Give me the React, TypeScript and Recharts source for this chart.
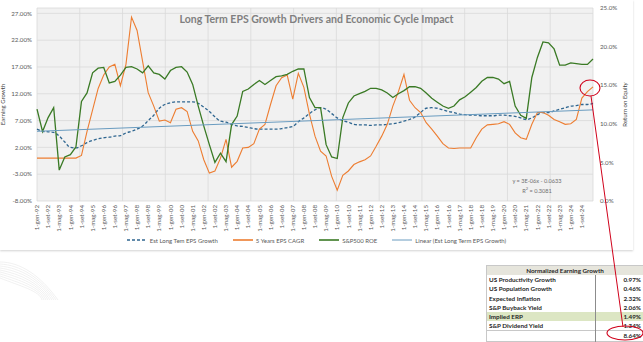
import React from 'react';
import { ComposedChart, Line, XAxis, YAxis, CartesianGrid, Legend } from 'recharts';

const FONT = 'Lato, "Open Sans", sans-serif';
const TEXT_GRAY = '#595959';

// sampled every 4 months starting 1-gen-92 (index 0)
const estGrowth = [
  5.4, 5.0, 4.9, 4.8, 4.1, 3.0, 2.0, 1.9, 2.3, 2.9,
  3.3, 3.6, 3.8, 3.9, 4.1, 4.2, 4.7, 5.0, 5.4, 6.0,
  7.0, 8.0, 9.3, 10.0, 10.3, 10.5, 10.5, 10.5, 10.5, 10.2,
  9.5, 8.7, 7.7, 6.9, 6.7, 6.3, 6.0, 5.9, 5.7, 5.5,
  5.4, 5.4, 5.4, 5.4, 5.5, 5.7, 5.9, 6.8, 7.5, 8.3,
  9.0, 9.4, 9.1, 8.3, 7.5, 7.0, 6.7, 6.3, 6.2, 6.2,
  6.1, 6.2, 6.2, 6.3, 6.4, 6.6, 6.9, 7.2, 7.7, 8.5,
  9.3, 9.4, 9.3, 9.0, 8.7, 8.5, 8.2, 8.1, 8.0, 8.0,
  7.9, 7.9, 7.9, 8.0, 8.0, 7.9, 7.8, 7.5, 7.2, 7.5,
  8.1, 8.5, 8.5, 8.8, 9.1, 9.4, 9.7, 9.8, 10.0, 10.0,
  10.2,
];

const epsCagr = [
  0.0, 0.0, 0.0, 0.0, 0.0, 0.0, 0.0, 0.0, 0.5, 5.0,
  9.0, 13.0, 15.5, 17.0, 17.5, 13.5, 17.5, 26.3, 23.8, 18.0,
  12.2, 9.7, 6.9, 7.1, 6.6, 9.1, 9.4, 8.7, 5.0, 3.2,
  -0.3, -2.8, -2.4, 0.0, 3.5, -1.7, -0.6, 1.9, 2.0, 2.7,
  5.4, 6.3, 10.0, 13.5, 15.0, 15.5, 11.0, 15.8, 13.2, 8.2,
  4.1, 1.3, 0.4, -3.4, -6.0, -3.2, -2.4, -1.2, -0.7, -0.3,
  0.4, 2.2, 4.1, 6.3, 9.7, 12.4, 15.6, 10.8, 9.4, 8.5,
  6.6, 5.4, 4.1, 2.7, 1.9, 1.8, 1.9, 1.9, 1.9, 3.8,
  5.4, 6.2, 6.3, 6.4, 6.8, 6.3, 4.7, 3.8, 3.5, 6.3,
  8.5, 8.5, 8.0, 7.2, 6.8, 6.3, 6.4, 7.2, 11.2, 12.4,
  13.3,
];

const spRoe = [
  11.9, 9.0, 10.8, 12.1, 4.0, 5.7, 6.0, 7.0, 12.9, 14.0,
  16.6, 17.2, 17.3, 15.3, 15.5, 16.3, 17.3, 17.4, 17.1, 16.6,
  17.5, 16.6, 16.4, 15.8, 16.9, 17.3, 17.4, 16.7, 15.1, 12.3,
  9.7, 7.3, 5.0, 6.2, 5.1, 9.9, 11.0, 14.2, 14.5, 15.1,
  15.6, 15.1, 15.6, 16.1, 16.2, 16.4, 16.8, 17.1, 17.1, 13.4,
  12.1, 12.1, 7.3, 5.7, 5.5, 10.8, 12.7, 13.6, 13.9, 14.2,
  14.6, 14.6, 14.4, 14.0, 13.4, 13.9, 14.3, 14.8, 14.8, 14.6,
  14.0, 13.3, 12.8, 12.3, 12.0, 12.3, 13.1, 13.5, 14.1, 14.7,
  15.5, 16.0, 16.0, 15.8, 15.2, 15.5, 12.3, 11.1, 10.7, 16.0,
  18.6, 20.6, 20.5, 19.7, 17.6, 17.6, 17.9, 17.8, 17.7, 17.7,
  18.4,
];

// linear trendline of Est Long Term EPS Growth: first and last value
const trendStart = 5.0;
const trendEnd = 9.0;

const tickLabels = [
  '1-gen-92', '1-set-92', '1-mag-93', '1-gen-94', '1-set-94', '1-mag-95', '1-gen-96', '1-set-96',
  '1-mag-97', '1-gen-98', '1-set-98', '1-mag-99', '1-gen-00', '1-set-00', '1-mag-01', '1-gen-02',
  '1-set-02', '1-mag-03', '1-gen-04', '1-set-04', '1-mag-05', '1-gen-06', '1-set-06', '1-mag-07',
  '1-gen-08', '1-set-08', '1-mag-09', '1-gen-10', '1-set-10', '1-mag-11', '1-gen-12', '1-set-12',
  '1-mag-13', '1-gen-14', '1-set-14', '1-mag-15', '1-gen-16', '1-set-16', '1-mag-17', '1-gen-18',
  '1-set-18', '1-mag-19', '1-gen-20', '1-set-20', '1-mag-21', '1-gen-22', '1-set-22', '1-mag-23',
  '1-gen-24', '1-set-24',
];
const tickMonths = tickLabels.map((_, i) => i * 8);

const leftTicks = [-8, -3, 2, 7, 12, 17, 22, 27];
const rightTicks = [0, 5, 10, 15, 20, 25];

const tableLabels = [
  'US Productivity Growth',
  'US Population Growth',
  'Expected Inflation',
  'S&P Buyback Yield',
  'Implied ERP',
  'S&P Dividend Yield',
];
const tableValues = [0.97, 0.46, 2.32, 2.06, 1.49, 1.34];
const tableTotal = 8.64;

const lastIdx = estGrowth.length - 1;
const data = estGrowth.map((v, i) => ({
  m: i * 4,
  est: v,
  cagr: epsCagr[i],
  roe: spRoe[i],
  trend: i === 0 ? trendStart : i === lastIdx ? trendEnd : null,
}));

const COLORS = {
  est: '#2f6690',
  cagr: '#ed7d31',
  roe: '#3a7a25',
  trend: '#6a9cc0',
};

const legendOrder = ['est', 'cagr', 'roe', 'trend'];
const legendStyle: Record<string, { dash?: string; w: number }> = {
  est: { dash: '3 2', w: 1.4 },
  cagr: { w: 1.6 },
  roe: { w: 1.6 },
  trend: { w: 1 },
};

const DateTick = ({ x, y, payload }: any) => {
  const idx = tickMonths.indexOf(payload.value);
  return (
    <text
      x={x}
      y={y}
      dy="0.35em"
      transform={`rotate(-90 ${x} ${y})`}
      textAnchor="end"
      fontSize={6.2}
      fontFamily={FONT}
      fill={TEXT_GRAY}
    >
      {idx >= 0 ? tickLabels[idx] : ''}
    </text>
  );
};

const LegendContent = ({ payload }: any) => {
  const items = [...(payload || [])].sort(
    (a: any, b: any) => legendOrder.indexOf(a.dataKey) - legendOrder.indexOf(b.dataKey)
  );
  return (
    <div
      style={{
        display: 'flex',
        justifyContent: 'center',
        alignItems: 'center',
        height: 16,
        fontFamily: FONT,
        fontSize: 6,
        color: TEXT_GRAY,
      }}
    >
      {items.map((p: any) => {
        const st = legendStyle[p.dataKey] || { w: 1 };
        return (
          <span key={p.dataKey} style={{ display: 'flex', alignItems: 'center', margin: '0 7.5px' }}>
            <svg width={20} height={4}>
              <line x1={0} y1={2} x2={20} y2={2} stroke={p.color} strokeWidth={st.w} strokeDasharray={st.dash} />
            </svg>
            <span style={{ marginLeft: 3, whiteSpace: 'nowrap' }}>{p.value}</span>
          </span>
        );
      })}
    </div>
  );
};

const gridColumns = ({ offset }: any) => {
  const cols: number[] = [];
  for (let i = 0; i <= 13; i++) cols.push(offset.left + (i * offset.width) / 13);
  return cols;
};

const cellBase: React.CSSProperties = {
  height: 9.2,
  padding: '0 2px',
  lineHeight: '9.2px',
  whiteSpace: 'nowrap',
};

export default function App() {
  return (
    <div
      style={{
        position: 'absolute',
        left: 0,
        top: 0,
        width: 643,
        height: 342,
        overflow: 'hidden',
        background: '#fff',
        fontFamily: FONT,
      }}
    >
      {/* chart card */}
      <div
        style={{
          position: 'absolute',
          left: 0,
          top: 0,
          width: 633,
          height: 250,
          background: '#fff',
          boxShadow: '0 1px 2px rgba(0,0,0,0.18)',
        }}
      >
        <ComposedChart width={633} height={250} data={data} margin={{ top: 8, right: 0, left: 0, bottom: 2 }}>
          <CartesianGrid
            yAxisId="left"
            stroke="#d9d9d9"
            strokeWidth={0.8}
            fill="#f1f1f1"
            verticalCoordinatesGenerator={gridColumns}
          />
          <XAxis
            dataKey="m"
            type="number"
            domain={[0, 400]}
            ticks={tickMonths}
            interval={0}
            tick={<DateTick />}
            tickLine={false}
            axisLine={false}
            tickSize={0}
            tickMargin={4}
            height={31}
          />
          <YAxis
            yAxisId="left"
            domain={[-8, 28]}
            ticks={leftTicks}
            tickFormatter={(v: number) => `${v.toFixed(2)}%`}
            tick={{ fontSize: 6.2, fill: TEXT_GRAY, fontFamily: FONT }}
            tickLine={false}
            axisLine={false}
            tickSize={0}
            tickMargin={5}
            width={37}
            label={{
              value: 'Earning Growth',
              angle: -90,
              position: 'insideLeft',
              offset: 3,
              style: { textAnchor: 'middle', fontSize: 6, fill: '#404040', fontFamily: FONT },
            }}
          />
          <YAxis
            yAxisId="right"
            orientation="right"
            domain={[0, 25]}
            ticks={rightTicks}
            tickFormatter={(v: number) => `${v.toFixed(1)}%`}
            tick={{ fontSize: 6.2, fill: TEXT_GRAY, fontFamily: FONT }}
            tickLine={false}
            axisLine={false}
            tickSize={0}
            tickMargin={7}
            width={40}
            label={{
              value: 'Return on Equity',
              angle: -90,
              position: 'insideRight',
              offset: 8,
              style: { textAnchor: 'middle', fontSize: 6, fill: '#404040', fontFamily: FONT },
            }}
          />
          <Legend verticalAlign="bottom" content={<LegendContent />} />
          <Line
            yAxisId="left"
            dataKey="est"
            name="Est Long Tem EPS Growth"
            type="monotone"
            stroke={COLORS.est}
            strokeWidth={1.3}
            strokeDasharray="3 2"
            dot={false}
            isAnimationActive={false}
          />
          <Line
            yAxisId="left"
            dataKey="cagr"
            name="5 Years EPS CAGR"
            type="linear"
            stroke={COLORS.cagr}
            strokeWidth={1.1}
            dot={false}
            isAnimationActive={false}
          />
          <Line
            yAxisId="right"
            dataKey="roe"
            name="S&P500 ROE"
            type="linear"
            stroke={COLORS.roe}
            strokeWidth={1.3}
            dot={false}
            isAnimationActive={false}
          />
          <Line
            yAxisId="left"
            dataKey="trend"
            name="Linear (Est Long Term EPS Growth)"
            type="linear"
            stroke={COLORS.trend}
            strokeWidth={1}
            dot={false}
            connectNulls
            isAnimationActive={false}
          />
        </ComposedChart>

        <div
          style={{
            position: 'absolute',
            left: 0,
            top: 13,
            width: 633,
            textAlign: 'center',
            fontSize: 10.5,
            fontWeight: 700,
            color: '#808080',
            pointerEvents: 'none',
          }}
        >
          Long Term EPS Growth Drivers and Economic Cycle Impact
        </div>
        <div
          style={{
            position: 'absolute',
            left: 497,
            top: 177,
            width: 80,
            textAlign: 'center',
            fontSize: 5.6,
            lineHeight: '8px',
            color: '#707070',
            pointerEvents: 'none',
          }}
        >
          <div>y = 3E-06x - 0.0633</div>
          <div>
            R<sup style={{ fontSize: 4 }}>2</sup> = 0.3081
          </div>
        </div>
      </div>

      {/* summary table */}
      <table
        style={{
          position: 'absolute',
          left: 486,
          top: 265,
          width: 158,
          borderCollapse: 'collapse',
          fontSize: 6.3,
          fontWeight: 700,
          color: '#262626',
          fontFamily: FONT,
          border: '0.8px solid #c8c8c8',
        }}
      >
        <tbody>
          <tr>
            <td colSpan={2} style={{ ...cellBase, textAlign: 'center', background: '#e6e5dc' }}>
              Normalized Earning Growth
            </td>
          </tr>
          {tableLabels.map((label, i) => (
            <tr key={label} style={{ background: label === 'Implied ERP' ? '#dce6c3' : '#fff' }}>
              <td style={{ ...cellBase, width: 104 }}>{label}</td>
              <td style={{ ...cellBase, textAlign: 'right', borderLeft: '0.8px solid #8c8c8c' }}>
                {tableValues[i].toFixed(2)}%
              </td>
            </tr>
          ))}
          <tr>
            <td style={{ ...cellBase, borderTop: '0.8px solid #c8c8c8' }}></td>
            <td
              style={{
                ...cellBase,
                textAlign: 'right',
                borderLeft: '0.8px solid #8c8c8c',
                borderTop: '0.8px solid #c8c8c8',
              }}
            >
              {tableTotal.toFixed(2)}%
            </td>
          </tr>
        </tbody>
      </table>

      {/* annotations and decoration */}
      <svg
        width={643}
        height={342}
        style={{ position: 'absolute', left: 0, top: 0, pointerEvents: 'none' }}
      >
        <g fill="none" stroke="#e2e2e2" strokeWidth={0.5}>
          {[0, 1, 2, 3, 4, 5, 6, 7, 8].map((k) => (
            <path key={k} d={`M0 ${262 + k * 2} C 20 ${262 + k * 3}, 40 ${275 + k * 2}, ${58 - k * 2} 300`} />
          ))}
        </g>
        <ellipse cx={590} cy={88} rx={10} ry={8} fill="none" stroke="#d0021b" strokeWidth={1.1} />
        <line x1={591} y1={96} x2={623} y2={327} stroke="#d0021b" strokeWidth={1} />
        <ellipse cx={625} cy={333} rx={18} ry={7} fill="none" stroke="#d0021b" strokeWidth={1.1} />
      </svg>
    </div>
  );
}
